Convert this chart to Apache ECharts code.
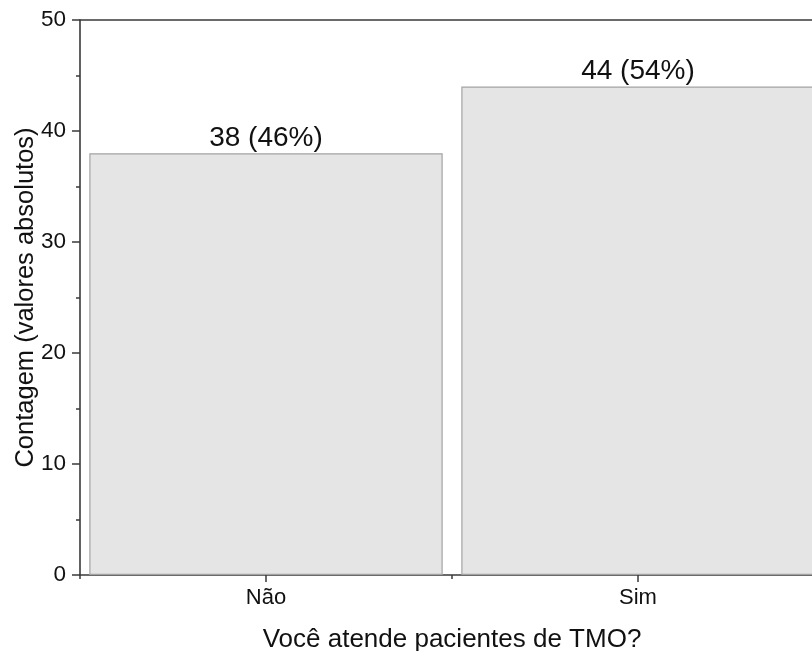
<!DOCTYPE html>
<html>
<head>
<meta charset="utf-8">
<script src="https://cdn.jsdelivr.net/npm/echarts@6/dist/echarts.min.js"></script>
<style>
  html, body { margin: 0; padding: 0; background: #fff; }
  #chart { width: 812px; height: 651px; }
</style>
</head>
<body>
<div id="chart"></div>
<script>
// Answers to "Você atende pacientes de TMO?"
const categories = ['Não', 'Sim'];
const counts = [38, 44];
const percents = [46, 54];
const yTicks = [0, 10, 20, 30, 40, 50];

const font = '"Liberation Sans", Arial, sans-serif';
const axisColor = '#3a3a3a';
const textColor = '#111111';

const chart = echarts.init(document.getElementById('chart'), null, { renderer: 'canvas' });

chart.setOption({
  animation: false,
  backgroundColor: '#ffffff',
  grid: { left: 80, top: 20, width: 744, height: 555, containLabel: false, outerBoundsMode: 'none' },
  xAxis: [{
    // main bottom axis: labels, title and short ticks at the category boundaries
    type: 'category',
    data: categories,
    position: 'bottom',
    name: 'Você atende pacientes de TMO?',
    nameLocation: 'middle',
    nameGap: 52,
    nameMoveOverlap: false,
    nameTextStyle: { fontFamily: font, fontSize: 26, color: textColor },
    axisLine: { show: true, lineStyle: { color: axisColor, width: 1.6 } },
    axisTick: { show: true, alignWithLabel: false, interval: 0, length: 4, inside: false, lineStyle: { color: axisColor, width: 1.5 } },
    axisLabel: { fontFamily: font, fontSize: 22, color: textColor, margin: 12 },
    splitLine: { show: false }
  }, {
    // frame line along the top of the plot
    type: 'category',
    data: categories,
    position: 'top',
    axisLine: { show: true, lineStyle: { color: axisColor, width: 1.6 } },
    axisTick: { show: false },
    axisLabel: { show: false },
    splitLine: { show: false }
  }, {
    // longer ticks under each category centre
    type: 'category',
    data: categories,
    position: 'bottom',
    offset: 0,
    axisLine: { show: false },
    axisTick: { show: true, alignWithLabel: true, interval: 0, length: 7, inside: false, lineStyle: { color: axisColor, width: 1.5 } },
    axisLabel: { show: false },
    splitLine: { show: false }
  }],
  yAxis: {
    type: 'value',
    min: yTicks[0],
    max: yTicks[yTicks.length - 1],
    interval: 10,
    name: 'Contagem (valores absolutos)',
    nameLocation: 'middle',
    nameGap: 41,
    nameMoveOverlap: false,
    nameRotate: 90,
    nameTextStyle: { fontFamily: font, fontSize: 25.5, color: textColor },
    axisLine: { show: true, lineStyle: { color: axisColor, width: 1.6 } },
    axisTick: { show: true, length: 8, inside: false, lineStyle: { color: axisColor, width: 1.5 } },
    minorTick: { show: true, splitNumber: 2, length: 4, lineStyle: { color: axisColor, width: 1.5 } },
    axisLabel: { fontFamily: font, fontSize: 22.5, color: textColor, margin: 14 },
    splitLine: { show: false }
  },
  series: [{
    type: 'bar',
    xAxisIndex: 0,
    data: counts,
    barCategoryGap: '5%',
    itemStyle: { color: '#e5e5e5', borderColor: '#a3a3a3', borderWidth: 1.2 },
    label: {
      show: true,
      position: 'top',
      distance: 1,
      fontFamily: font,
      fontSize: 28,
      color: textColor,
      formatter: (p) => `${counts[p.dataIndex]} (${percents[p.dataIndex]}%)`
    }
  }]
});
</script>
</body>
</html>
